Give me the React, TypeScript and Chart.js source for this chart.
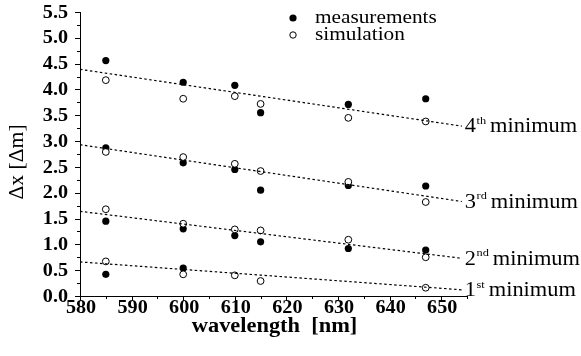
import React, { useEffect, useRef } from "react";
import { Chart, registerables } from "chart.js";
Chart.register(...registerables);

// wavelengths in nm
const wavelengths = [585, 600, 610, 615, 632, 647];

// measured Δx per minimum order
const meas4 = [4.56, 4.14, 4.08, 3.55, 3.71, 3.82];
const meas3 = [2.87, 2.58, 2.45, 2.05, 2.14, 2.13];
const meas2 = [1.45, 1.30, 1.17, 1.05, 0.92, 0.89];
const meas1 = [0.42, 0.54, null, null, null, null];

// simulated Δx per minimum order
const sim4 = [4.18, 3.82, 3.87, 3.72, 3.45, 3.38];
const sim3 = [2.79, 2.69, 2.56, 2.42, 2.21, 1.82];
const sim2 = [1.68, 1.40, 1.29, 1.27, 1.09, 0.75];
const sim1 = [0.67, 0.42, 0.40, 0.29, null, 0.16];

// dotted trend lines (start / end)
const fitX = [580, 654];
const fit4 = [4.39, 3.29];
const fit3 = [2.93, 1.83];
const fit2 = [1.64, 0.73];
const fit1 = [0.66, 0.12];

// axis tick labels
const xTickValues = [580, 590, 600, 610, 620, 630, 640, 650];
const yTickValues = [0, 0.5, 1, 1.5, 2, 2.5, 3, 3.5, 4, 4.5, 5, 5.5];

const orderNums = ["4", "3", "2", "1"];
const orderSups = ["th", "rd", "nd", "st"];
const legendLabels = ["measurements", "simulation"];
const xTitle = "wavelength  [nm]";
const yTitle = "\u0394x [\u0394m]";

const SERIF = '"Liberation Serif", "Times New Roman", serif';
const SX = 1.12;

function pts(xs: number[], ys: (number | null)[]) {
  const out: { x: number; y: number }[] = [];
  xs.forEach((x, i) => {
    const y = ys[i];
    if (y !== null && y !== undefined) out.push({ x, y });
  });
  return out;
}

function txt(ctx: any, s: string, x: number, y: number, font: string, align: string, sx = SX) {
  ctx.save();
  ctx.font = font;
  ctx.textAlign = "left";
  ctx.textBaseline = "middle";
  const w = ctx.measureText(s).width * sx;
  let left = x;
  if (align === "center") left = x - w / 2;
  else if (align === "right") left = x - w;
  ctx.translate(left, y);
  ctx.scale(sx, 1);
  ctx.fillText(s, 0, 0);
  ctx.restore();
  return w;
}

export default function App() {
  const ref = useRef<HTMLCanvasElement | null>(null);
  useEffect(() => {
    if (!ref.current) return;
    const fits = [fit4, fit3, fit2, fit1];
    const measAll = [meas4, meas3, meas2, meas1];
    const simAll = [sim4, sim3, sim2, sim1];

    const datasets: any[] = [];
    fits.forEach((f) => {
      datasets.push({
        data: pts(fitX, f),
        showLine: true,
        borderColor: "#000",
        borderWidth: 1.2,
        borderDash: [2.5, 2.5],
        pointRadius: 0,
        fill: false,
      });
    });
    simAll.forEach((s) => {
      datasets.push({
        data: pts(wavelengths, s),
        showLine: false,
        pointRadius: 3.4,
        pointBackgroundColor: "#fff",
        pointBorderColor: "#000",
        pointBorderWidth: 1,
      });
    });
    measAll.forEach((m) => {
      datasets.push({
        data: pts(wavelengths, m),
        showLine: false,
        pointRadius: 3.6,
        pointBackgroundColor: "#000",
        pointBorderColor: "#000",
        pointBorderWidth: 0,
      });
    });

    const decor = {
      id: "decor",
      afterDraw(chart: any) {
        const ctx = chart.ctx;
        const xs = chart.scales.x;
        const ys = chart.scales.y;
        const area = chart.chartArea;
        ctx.save();
        ctx.strokeStyle = "#000";
        ctx.fillStyle = "#000";
        ctx.lineWidth = 1;
        // y ticks
        for (let v = 0; v <= 5.5001; v += 0.25) {
          const y = Math.round(ys.getPixelForValue(v)) + 0.5;
          const major = Math.abs(v * 2 - Math.round(v * 2)) < 1e-6;
          const len = major ? 5 : 3;
          ctx.beginPath();
          ctx.moveTo(area.left - len, y);
          ctx.lineTo(area.left, y);
          ctx.stroke();
        }
        // x ticks
        for (let v = 580; v <= 655; v += 5) {
          const x = Math.round(xs.getPixelForValue(v)) + 0.5;
          const major = v % 10 === 0;
          const len = major ? 5 : 3;
          ctx.beginPath();
          ctx.moveTo(x, area.bottom);
          ctx.lineTo(x, area.bottom + len);
          ctx.stroke();
        }
        // tick labels
        const tickFont = `bold 18px ${SERIF}`;
        yTickValues.forEach((v) => {
          txt(ctx, v.toFixed(1), area.left - 12, ys.getPixelForValue(v) + 1, tickFont, "right");
        });
        xTickValues.forEach((v) => {
          txt(ctx, String(v), xs.getPixelForValue(v) + 1, area.bottom + 12, tickFont, "center");
        });
        // trend labels
        fits.forEach((f, i) => {
          let x = xs.getPixelForValue(fitX[1]) + 3;
          const y = ys.getPixelForValue(f[1]) + 1;
          x += txt(ctx, orderNums[i], x, y, `20px ${SERIF}`, "left") + 0.5;
          x += txt(ctx, orderSups[i], x, y - 6, `11px ${SERIF}`, "left") + 4;
          txt(ctx, "minimum", x, y, `20px ${SERIF}`, "left");
        });
        // legend
        const lx = 293;
        const ly = [18, 35];
        ctx.beginPath();
        ctx.arc(lx, ly[0], 3.6, 0, Math.PI * 2);
        ctx.fill();
        ctx.beginPath();
        ctx.arc(lx, ly[1], 3.2, 0, Math.PI * 2);
        ctx.stroke();
        txt(ctx, legendLabels[0], 315, ly[0], `19px ${SERIF}`, "left");
        txt(ctx, legendLabels[1], 315, ly[1], `19px ${SERIF}`, "left");
        // x title
        txt(ctx, xTitle, (area.left + area.right) / 2 + 1, 327, `bold 20px ${SERIF}`, "center");
        // y title
        ctx.save();
        ctx.translate(18, 162);
        ctx.rotate(-Math.PI / 2);
        txt(ctx, yTitle, 0, 0, `20px ${SERIF}`, "center", 1.08);
        ctx.restore();
        ctx.restore();
      },
    };

    const chart = new Chart(ref.current, {
      type: "scatter",
      data: { datasets },
      options: {
        animation: false,
        responsive: false,
        maintainAspectRatio: false,
        layout: { padding: { top: 12, right: 114, left: 0, bottom: 0 } },
        plugins: { legend: { display: false }, tooltip: { enabled: false } },
        scales: {
          x: {
            type: "linear",
            min: 580,
            max: 655,
            afterFit: (s: any) => {
              s.height = 60;
            },
            grid: { display: true, drawOnChartArea: false, drawTicks: false },
            border: { display: true, color: "#000", width: 1 },
            ticks: { display: false, stepSize: 5 },
          },
          y: {
            type: "linear",
            min: 0,
            max: 5.5,
            afterFit: (s: any) => {
              s.width = 80;
            },
            grid: { display: true, drawOnChartArea: false, drawTicks: false },
            border: { display: true, color: "#000", width: 1 },
            ticks: { display: false, stepSize: 0.5 },
          },
        },
      },
      plugins: [decor],
    } as any);
    return () => chart.destroy();
  }, []);
  return (
    <div style={{ position: "fixed", left: 0, top: 0, width: 581, height: 356, background: "#fff" }}>
      <canvas ref={ref} width={581} height={356} />
    </div>
  );
}
